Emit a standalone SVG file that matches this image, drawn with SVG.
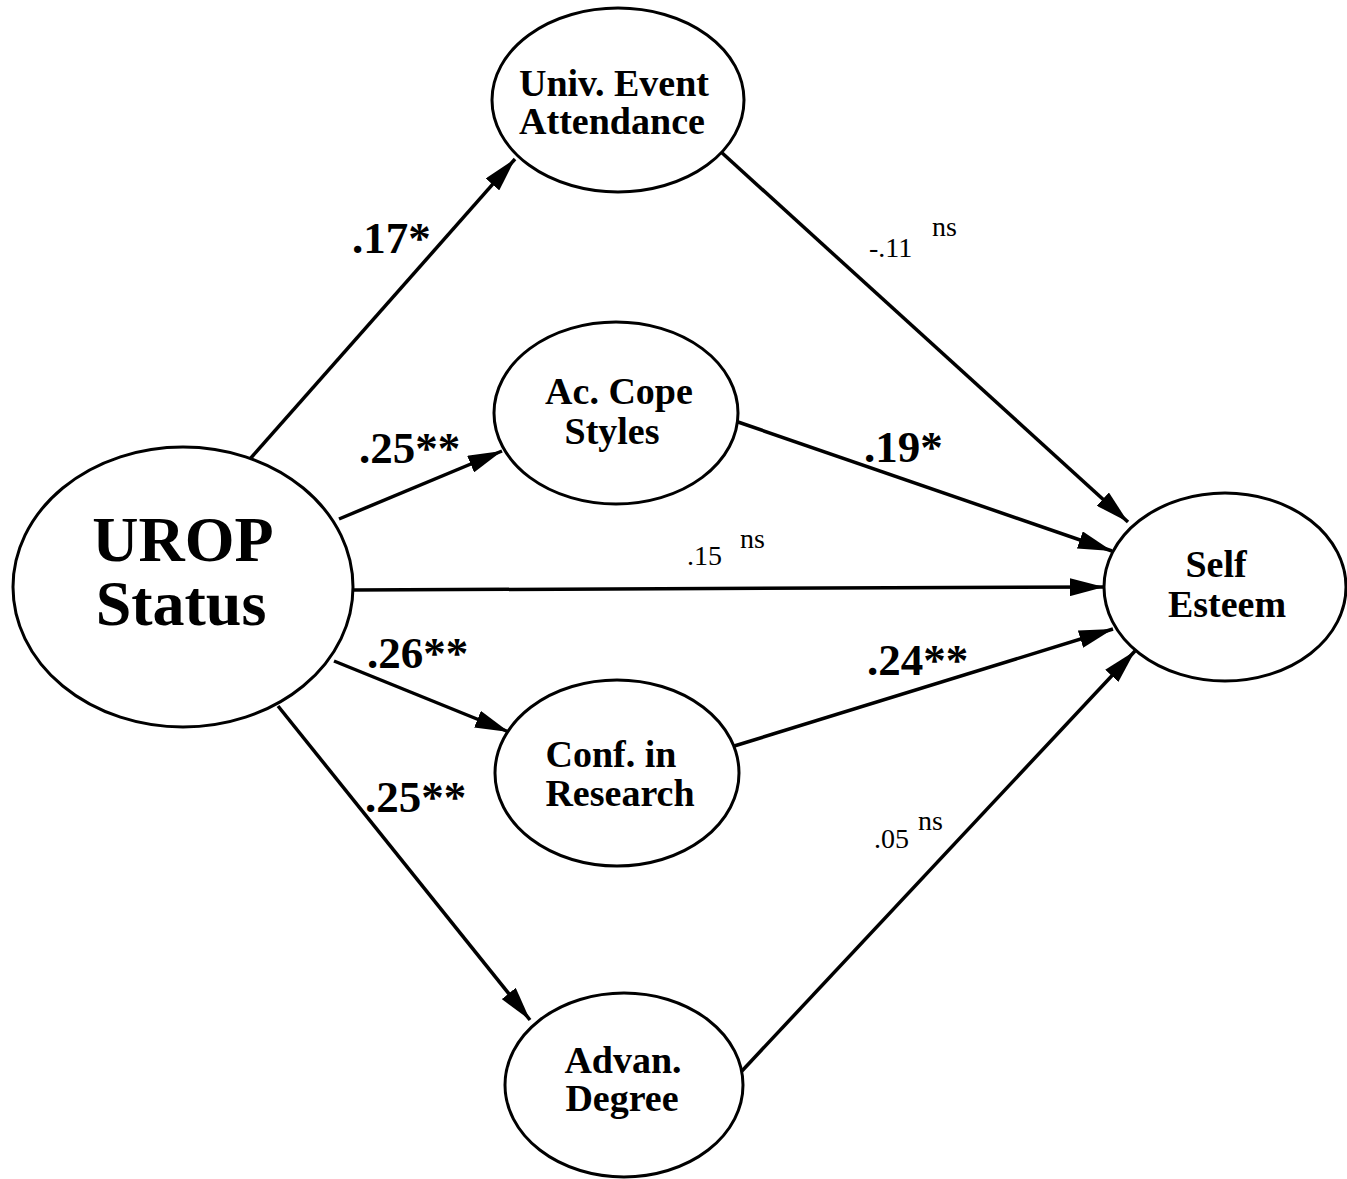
<svg xmlns="http://www.w3.org/2000/svg" width="1347" height="1179" viewBox="0 0 1347 1179">
  <style>
    .node { fill: #ffffff; stroke: #000000; stroke-width: 3; }
    .lbl { font-family: "Liberation Serif", "Times New Roman", serif; font-weight: bold; fill: #000000; text-anchor: middle; }
    .big { font-size: 64px; }
    .mid { font-size: 38px; }
    .coef { font-family: "Liberation Serif", "Times New Roman", serif; font-weight: bold; font-size: 45px; fill: #000000; }
    .ns { font-family: "Liberation Serif", "Times New Roman", serif; font-size: 28px; fill: #000000; }
    .edge { fill: none; stroke: #000000; stroke-width: 3.5; }
  </style>
  <defs>
    <marker id="arrow" viewBox="0 0 34 18" refX="34" refY="9" markerWidth="34" markerHeight="18" markerUnits="userSpaceOnUse" orient="auto">
      <path d="M0,0 L34,9 L0,18 z" fill="#000000"/>
    </marker>
  </defs>
  <rect x="0" y="0" width="1347" height="1179" fill="#ffffff"/>

  <g id="connectors">
    <path class="edge" d="M250,459 L515,159" marker-end="url(#arrow)"/>
    <path class="edge" d="M339,519 L502,451" marker-end="url(#arrow)"/>
    <path class="edge" d="M353,590 L1104,587" marker-end="url(#arrow)"/>
    <path class="edge" d="M334,661 L509,732" marker-end="url(#arrow)"/>
    <path class="edge" d="M278,706 L530,1020" marker-end="url(#arrow)"/>
    <path class="edge" d="M720,151 L1128,522" marker-end="url(#arrow)"/>
    <path class="edge" d="M738,422 L1112,551" marker-end="url(#arrow)"/>
    <path class="edge" d="M731,747 L1113,629" marker-end="url(#arrow)"/>
    <path class="edge" d="M741,1072 L1135,651" marker-end="url(#arrow)"/>
  </g>

  <g id="edge-labels">
    <text class="coef" x="352" y="253">.17*</text>
    <text class="coef" x="359" y="463">.25**</text>
    <text class="coef" x="864" y="462">.19*</text>
    <text class="coef" x="367" y="668">.26**</text>
    <text class="coef" x="867" y="675">.24**</text>
    <text class="coef" x="365" y="812">.25**</text>
    <text class="ns" x="869" y="257">-.11</text>
    <text class="ns" x="932" y="236">ns</text>
    <text class="ns" x="687" y="565">.15</text>
    <text class="ns" x="740" y="548">ns</text>
    <text class="ns" x="874" y="848">.05</text>
    <text class="ns" x="918" y="830">ns</text>
  </g>

  <g id="node-urop">
    <ellipse class="node" cx="183" cy="587" rx="170" ry="140"/>
    <text class="lbl big" x="183" y="561">UROP</text>
    <text class="lbl big" x="181" y="625">Status</text>
  </g>
  <g id="node-univ">
    <ellipse class="node" cx="618" cy="100" rx="126" ry="92"/>
    <text class="lbl mid" x="614" y="96">Univ. Event</text>
    <text class="lbl mid" x="612" y="134">Attendance</text>
  </g>
  <g id="node-cope">
    <ellipse class="node" cx="616" cy="413" rx="122" ry="91"/>
    <text class="lbl mid" x="619" y="404">Ac. Cope</text>
    <text class="lbl mid" x="612" y="444">Styles</text>
  </g>
  <g id="node-conf">
    <ellipse class="node" cx="617" cy="773" rx="122" ry="93"/>
    <text class="lbl mid" x="611" y="767">Conf. in</text>
    <text class="lbl mid" x="620" y="806">Research</text>
  </g>
  <g id="node-advan">
    <ellipse class="node" cx="624" cy="1085" rx="119" ry="92"/>
    <text class="lbl mid" x="623" y="1073">Advan.</text>
    <text class="lbl mid" x="622" y="1111">Degree</text>
  </g>
  <g id="node-self">
    <ellipse class="node" cx="1225" cy="587" rx="121" ry="94"/>
    <text class="lbl mid" x="1216" y="577">Self</text>
    <text class="lbl mid" x="1227" y="617">Esteem</text>
  </g>
</svg>
